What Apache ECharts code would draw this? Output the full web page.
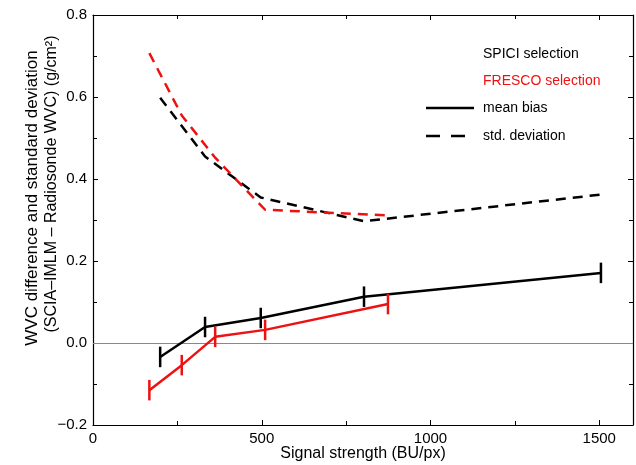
<!DOCTYPE html>
<html>
<head>
<meta charset="utf-8">
<script src="https://cdn.jsdelivr.net/npm/echarts@6/dist/echarts.min.js"></script>
<style>
html,body{margin:0;padding:0;background:#fff;}
#chart{width:636px;height:465px;}
</style>
</head>
<body>
<div id="chart"></div>
<script>
// SPICI selection (black)
const spiciX = [199, 332, 497, 803, 1505];
const spiciMean = [-0.034, 0.039, 0.061, 0.113, 0.171];
const spiciErr = [0.025, 0.025, 0.025, 0.025, 0.025];
const spiciStd = [0.598, 0.455, 0.355, 0.297, 0.362];
// FRESCO selection (red)
const frescoX = [167, 263, 362, 510, 874];
const frescoMean = [-0.115, -0.054, 0.015, 0.032, 0.095];
const frescoErr = [0.025, 0.025, 0.025, 0.025, 0.025];
const frescoStd = [0.707, 0.555, 0.452, 0.325, 0.311];
// axes
const xTicks = [0, 500, 1000, 1500];
const yTicks = [-0.2, 0.0, 0.2, 0.4, 0.6, 0.8];

const FONT = 'Liberation Sans, Arial, Helvetica, sans-serif';
const chart = echarts.init(document.getElementById('chart'));

function pairs(xs, ys){ return xs.map((x,i)=>[x, ys[i]]); }
function errData(xs, ys, es){ return xs.map((x,i)=>[x, ys[i]-es[i], ys[i]+es[i]]); }
function errSeries(data, color){
  return {
    type:'custom', data: data, z: 5, silent:true,
    renderItem: function(params, api){
      const p1 = api.coord([api.value(0), api.value(1)]);
      const p2 = api.coord([api.value(0), api.value(2)]);
      return {type:'line', shape:{x1:p1[0], y1:p1[1], x2:p2[0], y2:p2[1]},
              style:{stroke: color, lineWidth: 2.5}};
    }
  };
}
function axisCommon(){
  return {
    axisLine:{show:true, onZero:false, lineStyle:{color:'#000', width:1.2}},
    axisTick:{show:true, inside:true, length:5, lineStyle:{color:'#000', width:1}},
    minorTick:{show:true, splitNumber:2, length:4, lineStyle:{color:'#000', width:1}},
    splitLine:{show:false}
  };
}
const option = {
  animation:false,
  backgroundColor:'#fff',
  grid:{left:93, right:3, top:15, bottom:40, show:false, containLabel:false, outerBoundsMode:'none'},
  xAxis:[
    Object.assign({type:'value', min:0, max:1600, interval:500, position:'bottom',
      axisLabel:{fontFamily:FONT, fontSize:15, color:'#000', margin:6, showMaxLabel:false,
        formatter: v => xTicks.includes(v) ? String(v) : ''}
    }, axisCommon()),
    Object.assign({type:'value', min:0, max:1600, interval:500, position:'top',
      axisLabel:{show:false}}, axisCommon())
  ],
  yAxis:[
    Object.assign({type:'value', min:-0.2, max:0.8, interval:0.2, position:'left',
      axisLabel:{fontFamily:FONT, fontSize:15, color:'#000', margin:6,
        formatter: v => { const t = yTicks.find(k=>Math.abs(k-v)<1e-9); return t===undefined?'':(t<0?'\u2212'+Math.abs(t).toFixed(1):t.toFixed(1)); }}
    }, axisCommon()),
    Object.assign({type:'value', min:-0.2, max:0.8, interval:0.2, position:'right',
      axisLabel:{show:false}}, axisCommon())
  ],
  graphic:[
    {type:'text', x:363, y:454,
     style:{text:'Signal strength (BU/px)', font:'16px '+FONT, fill:'#000', textAlign:'center', textVerticalAlign:'middle'}},
    {type:'text', x:32, y:198, rotation:Math.PI/2,
     style:{text:'WVC difference and standard deviation', font:'17px '+FONT, fill:'#000', textAlign:'center', textVerticalAlign:'middle'}},
    {type:'text', x:52, y:184, rotation:Math.PI/2,
     style:{text:'(SCIA\u2013IMLM \u2013 Radiosonde WVC) (g/cm\u00b2)', font:'16px '+FONT, fill:'#000', textAlign:'center', textVerticalAlign:'middle'}},
    {type:'text', x:483, y:54, style:{text:'SPICI selection', font:'14px '+FONT, fill:'#000', textVerticalAlign:'middle'}},
    {type:'text', x:483, y:81, style:{text:'FRESCO selection', font:'14px '+FONT, fill:'#ee1111', textVerticalAlign:'middle'}},
    {type:'line', shape:{x1:426, y1:108, x2:474, y2:108}, style:{stroke:'#000', lineWidth:2.5}},
    {type:'text', x:483, y:108, style:{text:'mean bias', font:'14px '+FONT, fill:'#000', textVerticalAlign:'middle'}},
    {type:'line', shape:{x1:426, y1:136, x2:474, y2:136}, style:{stroke:'#000', lineWidth:2.5, lineDash:[14,11]}},
    {type:'text', x:483, y:136, style:{text:'std. deviation', font:'14px '+FONT, fill:'#000', textVerticalAlign:'middle'}}
  ],
  series:[
    {type:'line', data: pairs(spiciX, spiciStd), symbol:'none', z:3,
     lineStyle:{color:'#000', width:2.5, type:[10,7]},
     markLine:{silent:true, symbol:'none', label:{show:false}, data:[{yAxis:0}], z:1,
       lineStyle:{color:'#888', width:1, type:'solid'}}},
    {type:'line', data: pairs(frescoX, frescoStd), symbol:'none', z:4,
     lineStyle:{color:'#ee1111', width:2.5, type:[10,7]}},
    {type:'line', data: pairs(spiciX, spiciMean), symbol:'none', z:3,
     lineStyle:{color:'#000', width:2.5}},
    {type:'line', data: pairs(frescoX, frescoMean), symbol:'none', z:4,
     lineStyle:{color:'#ee1111', width:2.5}},
    errSeries(errData(spiciX, spiciMean, spiciErr), '#000'),
    errSeries(errData(frescoX, frescoMean, frescoErr), '#ee1111')
  ]
};
chart.setOption(option);
</script>
</body>
</html>
